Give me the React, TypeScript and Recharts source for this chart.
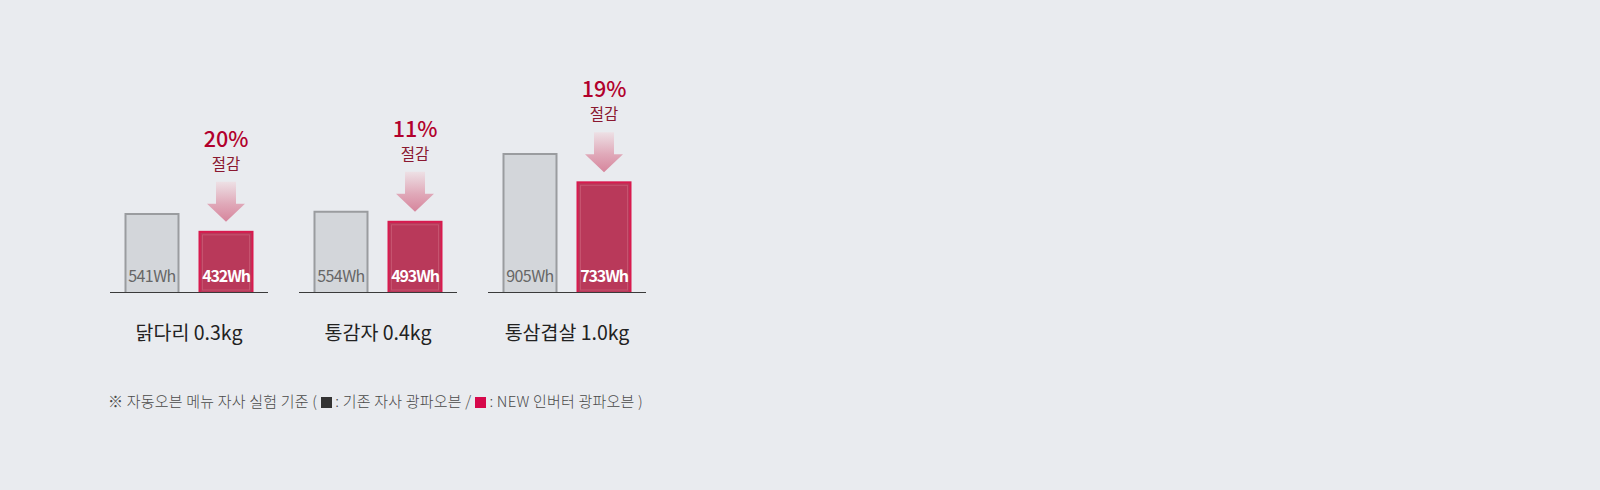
import React from 'react';
import { BarChart, Bar, XAxis, YAxis, LabelList } from 'recharts';

const categories = ['닭다리 0.3kg', '통감자 0.4kg', '통삼겹살 1.0kg'];
const oldOven = [541, 554, 905];
const newOven = [432, 493, 733];
const savings = ['20%', '11%', '19%'];
const unit = 'Wh';
const savingWord = '절감';
const noteStart = '※ 자동오븐 메뉴 자사 실험 기준 ( ';
const noteOld = ' : 기존 자사 광파오븐 / ';
const noteNew = ' : NEW 인버터 광파오븐 )';

const data = categories.map((name, i) => ({
  name,
  old: oldOven[i],
  neu: newOven[i],
  saving: savings[i],
}));

const FONT = "'Noto Sans CJK KR', 'Noto Sans', sans-serif";
const BG = '#e9ebef';

const GroupTick = (props: any) => {
  const { x, y, payload } = props;
  return (
    <g>
      <line x1={x - 79} x2={x + 79} y1={y - 0.5} y2={y - 0.5} stroke="#3a3a3a" strokeWidth={1} />
      <text x={x} y={y + 47} textAnchor="middle" fontSize={19.5} fill="#222" fontFamily={FONT}>
        {payload.value}
      </text>
    </g>
  );
};

const RedBar = (p: any) => {
  const { x, y, width, height } = p;
  if (!height) return null;
  return (
    <g>
      <rect x={x} y={y} width={width} height={height} fill="#b9395a" stroke="#d81a4e" strokeWidth={2} />
      <rect x={x + 3} y={y + 3} width={width - 6} height={height - 6} fill="none" stroke="#c6536f" strokeWidth={1} />
    </g>
  );
};

const OldLabel = (props: any) => {
  const { x, y, width, height, value } = props;
  return (
    <text x={x + width / 2} y={y + height - 11} textAnchor="middle" fontSize={16} fill="#666" letterSpacing={-0.6} fontFamily={FONT}>
      {value}
      {unit}
    </text>
  );
};

const NewLabel = (props: any) => {
  const { x, y, width, height, value } = props;
  return (
    <text x={x + width / 2} y={y + height - 11} textAnchor="middle" fontSize={16} fontWeight={700} fill="#fff" letterSpacing={-1.1} fontFamily={FONT}>
      {value}
      {unit}
    </text>
  );
};

const SavingLabel = (props: any) => {
  const { x, y, width, value } = props;
  const cx = x + width / 2;
  const t = y;
  const d = `M${cx - 10},${t - 50} L${cx + 10},${t - 50} L${cx + 10},${t - 28} L${cx + 19},${t - 28} L${cx},${t - 10} L${cx - 19},${t - 28} L${cx - 10},${t - 28} Z`;
  return (
    <g>
      <defs>
        <linearGradient id="arrowGrad" x1="0" y1="0" x2="0" y2="1">
          <stop offset="0" stopColor="#ede0e5" />
          <stop offset="0.55" stopColor="#e0a9b9" />
          <stop offset="1" stopColor="#d6859c" />
        </linearGradient>
      </defs>
      <path d={d} fill="url(#arrowGrad)" />
      <text x={cx} y={t - 85} textAnchor="middle" fontSize={21.5} fontWeight={500} fill="#b2002c" fontFamily={FONT}>
        {value}
      </text>
      <text x={cx} y={t - 62} textAnchor="middle" fontSize={15.5} fill="#8a1830" fontFamily={FONT}>
        {savingWord}
      </text>
    </g>
  );
};

export default function App() {
  return (
    <div style={{ position: 'absolute', left: 0, top: 0, width: 1600, height: 490, background: BG, overflow: 'hidden' }}>
      <BarChart
        width={1600}
        height={490}
        data={data}
        margin={{ top: 145, right: 938.5, left: 94.5, bottom: 137 }}
        barSize={53}
        barGap={21}
      >
        <YAxis hide domain={[60, 960]} allowDataOverflow />
        <XAxis
          dataKey="name"
          height={60}
          axisLine={false}
          tickLine={false}
          tickSize={0}
          tickMargin={0}
          interval={0}
          tick={<GroupTick />}
        />
        <Bar dataKey="old" fill="#d3d6da" stroke="#9a9c9f" strokeWidth={2} isAnimationActive={false}>
          <LabelList dataKey="old" content={<OldLabel />} />
        </Bar>
        <Bar dataKey="neu" shape={<RedBar />} isAnimationActive={false}>
          <LabelList dataKey="neu" content={<NewLabel />} />
          <LabelList dataKey="saving" content={<SavingLabel />} />
        </Bar>
      </BarChart>
      <div
        style={{
          position: 'absolute',
          left: 108,
          top: 391,
          fontSize: 15,
          lineHeight: '20px',
          color: '#4a4a4a',
          fontFamily: FONT,
          fontWeight: 300,
          whiteSpace: 'nowrap',
          letterSpacing: 0.2,
        }}
      >
        {noteStart}
        <span style={{ display: 'inline-block', width: 11, height: 11, background: '#333', verticalAlign: '-1px' }} />
        {noteOld}
        <span style={{ display: 'inline-block', width: 11, height: 11, background: '#d6084b', verticalAlign: '-1px' }} />
        {noteNew}
      </div>
    </div>
  );
}
